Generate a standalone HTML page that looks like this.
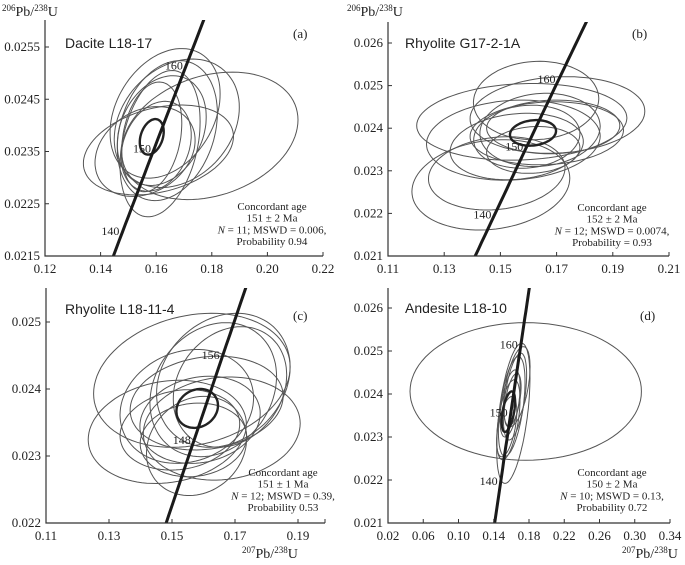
<!DOCTYPE html>
<html><head><meta charset="utf-8">
<style>
html,body{margin:0;padding:0;background:#fff;overflow:hidden;width:685px;height:565px;}
svg{display:block;font-family:"Liberation Serif","DejaVu Serif",serif;}
</style></head>
<body>
<svg id="chart" width="685" height="565" viewBox="0 0 685 565" xmlns="http://www.w3.org/2000/svg"></svg>
<script>
// ---- Panel (a) Dacite L18-17 ----
const aXTicks = [0.12, 0.14, 0.16, 0.18, 0.20, 0.22];
const aXLabels = ["0.12", "0.14", "0.16", "0.18", "0.20", "0.22"];
const aYTicks = [0.0215, 0.0225, 0.0235, 0.0245, 0.0255];
const aYLabels = ["0.0215", "0.0225", "0.0235", "0.0245", "0.0255"];
const aCx = [0.1793, 0.1608, 0.1632, 0.1674, 0.1614, 0.1584, 0.1620, 0.1600, 0.1640, 0.1560, 0.1584];
const aCy = [0.02380, 0.02353, 0.02423, 0.02404, 0.02365, 0.02378, 0.02390, 0.02360, 0.02390, 0.02350, 0.02378];
const aSx = [0.0317, 0.0270, 0.0198, 0.0225, 0.0144, 0.0108, 0.0160, 0.0126, 0.0180, 0.0180, 0.0043];
const aSy = [0.00122, 0.00086, 0.00124, 0.00123, 0.00140, 0.00105, 0.00105, 0.00086, 0.00134, 0.00086, 0.00034];
const aRho = [0.25, 0.3, 0.3, 0.25, 0.3, 0.25, 0.25, 0.25, 0.25, 0.25, 0.3];
const aAges = [140, 150, 160];

// ---- Panel (b) Rhyolite G17-2-1A ----
const bXTicks = [0.11, 0.13, 0.15, 0.17, 0.19, 0.21];
const bXLabels = ["0.11", "0.13", "0.15", "0.17", "0.19", "0.21"];
const bYTicks = [0.021, 0.022, 0.023, 0.024, 0.025, 0.026];
const bYLabels = ["0.021", "0.022", "0.023", "0.024", "0.025", "0.026"];
const bCx = [0.1466, 0.1576, 0.1627, 0.1703, 0.1487, 0.1665, 0.1594, 0.1641, 0.1558, 0.1688, 0.1617, 0.1546, 0.1616];
const bCy = [0.02267, 0.02415, 0.02465, 0.02431, 0.02294, 0.02388, 0.02380, 0.02396, 0.02357, 0.02403, 0.02349, 0.02372, 0.02389];
const bSx = [0.0281, 0.0374, 0.0223, 0.0311, 0.0243, 0.0273, 0.0189, 0.0214, 0.0237, 0.0237, 0.0166, 0.0309, 0.0082];
const bSy = [0.00106, 0.00090, 0.00092, 0.00090, 0.00086, 0.00074, 0.00074, 0.00086, 0.00078, 0.00063, 0.00055, 0.00094, 0.00030];
const bRho = [0.15, 0.1, 0.05, 0.1, 0.15, 0.1, 0.1, 0.1, 0.15, 0.05, 0.1, 0.1, 0.15];
const bAges = [140, 150, 160];

// ---- Panel (c) Rhyolite L18-11-4 ----
const cXTicks = [0.11, 0.13, 0.15, 0.17, 0.19];
const cXLabels = ["0.11", "0.13", "0.15", "0.17", "0.19"];
const cYTicks = [0.022, 0.023, 0.024, 0.025];
const cYLabels = ["0.022", "0.023", "0.024", "0.025"];
const cCx = [0.1485, 0.1658, 0.1563, 0.1663, 0.1578, 0.1547, 0.1631, 0.1589, 0.1610, 0.1525, 0.1684, 0.1568, 0.1580];
const cCy = [0.02336, 0.02341, 0.02413, 0.02413, 0.02315, 0.02374, 0.02399, 0.02354, 0.02379, 0.02339, 0.02403, 0.02324, 0.02371];
const cSx = [0.0251, 0.0249, 0.0312, 0.0212, 0.0159, 0.0212, 0.0201, 0.0191, 0.0243, 0.0190, 0.0180, 0.0169, 0.0066];
const cSy = [0.00077, 0.00077, 0.00100, 0.00100, 0.00074, 0.00085, 0.00100, 0.00065, 0.00070, 0.00060, 0.00090, 0.00055, 0.00029];
const cRho = [0.15, 0.1, 0.2, 0.2, 0.15, 0.15, 0.2, 0.15, 0.15, 0.15, 0.2, 0.1, 0.15];
const cAges = [148, 156];

// ---- Panel (d) Andesite L18-10 ----
const dXTicks = [0.02, 0.06, 0.10, 0.14, 0.18, 0.22, 0.26, 0.30, 0.34];
const dXLabels = ["0.02", "0.06", "0.10", "0.14", "0.18", "0.22", "0.26", "0.30", "0.34"];
const dYTicks = [0.021, 0.022, 0.023, 0.024, 0.025, 0.026];
const dYLabels = ["0.021", "0.022", "0.023", "0.024", "0.025", "0.026"];
const dCx = [0.1763, 0.1622, 0.1604, 0.1641, 0.1566, 0.1661, 0.1585, 0.1547, 0.1615, 0.1566];
const dCy = [0.02406, 0.02355, 0.02371, 0.02394, 0.02340, 0.02417, 0.02378, 0.02324, 0.02386, 0.02359];
const dSx = [0.1313, 0.0189, 0.0151, 0.0132, 0.0132, 0.0151, 0.0114, 0.0114, 0.0095, 0.0076];
const dSy = [0.00160, 0.00163, 0.00116, 0.00101, 0.00093, 0.00093, 0.00078, 0.00070, 0.00062, 0.00047];
const dRho = [0.0, 0.5, 0.5, 0.5, 0.5, 0.5, 0.5, 0.5, 0.5, 0.5];
const dAges = [140, 150, 160];

const NS = "http://www.w3.org/2000/svg";
const svg = document.getElementById("chart");
function mk(tag, attrs, parent) {
  const e = document.createElementNS(NS, tag);
  for (const k in attrs) e.setAttribute(k, attrs[k]);
  (parent || svg).appendChild(e);
  return e;
}
const L238 = 1.55125e-10, L235 = 9.8485e-10;
function conc(tMa) { return [Math.exp(L235 * tMa * 1e6) - 1, Math.exp(L238 * tMa * 1e6) - 1]; }

function panel(cfg) {
  const g = mk("g", {});
  
  
  const X = v => cfg.px0 + (v - cfg.dx0) / (cfg.dx1 - cfg.dx0) * (cfg.px1 - cfg.px0);
  const Y = v => cfg.py0 + (v - cfg.dy0) / (cfg.dy1 - cfg.dy0) * (cfg.py1 - cfg.py0);
  const clipId = "clip-" + cfg.id;
  const cp = mk("clipPath", { id: clipId }, g);
  mk("rect", { x: cfg.px0, y: cfg.top, width: cfg.axEnd - cfg.px0, height: cfg.py0 - cfg.top }, cp);
  const plot = mk("g", { "clip-path": "url(#" + clipId + ")" }, g);
  
  
  const n = cfg.cx.length;
  for (let i = 0; i < n; i++) {
    const bold = i === n - 1;
    const pts = [];
    const r = cfg.rho[i], q = Math.sqrt(1 - r * r);
    for (let k = 0; k <= 96; k++) {
      const t = k / 96 * 2 * Math.PI;
      const xv = cfg.cx[i] + cfg.sx[i] * Math.cos(t);
      const yv = cfg.cy[i] + cfg.sy[i] * (r * Math.cos(t) + q * Math.sin(t));
      pts.push(X(xv).toFixed(1) + "," + Y(yv).toFixed(1));
    }
    const e = mk("polygon", { points: pts.join(" "), fill: "none", stroke: bold ? "#222" : "#555", "stroke-width": bold ? 2.4 : 1 }, plot);
    
    
  }
  const cpts = [];
  for (let t = 100; t <= 200; t += 1) { const c = conc(t); cpts.push(X(c[0]).toFixed(1) + "," + Y(c[1]).toFixed(1)); }
  const cl = mk("polyline", { points: cpts.join(" "), fill: "none", stroke: "#1a1a1a", "stroke-width": 3 }, plot);
  
  
  cfg.ages.forEach(a => {
    const c = conc(a);
    const t = mk("text", { x: X(c[0]) - 3, y: Y(c[1]) + 3, "text-anchor": "end", "font-size": 12, fill: "#222" }, g);
    t.textContent = a;
    
    
  });
  const ax = mk("path", { d: `M${cfg.px0},${cfg.top} V${cfg.py0} H${cfg.axEnd}`, fill: "none", stroke: "#333", "stroke-width": 1.2 }, g);
  
  
  cfg.xt.forEach((v, i) => {
    const x = X(v);
    mk("line", { x1: x, x2: x, y1: cfg.py0, y2: cfg.py0 - 4, stroke: "#333" }, g);
    const t = mk("text", { x: x, y: cfg.py0 + 17, "text-anchor": "middle", "font-size": 13, fill: "#222" }, g);
    t.textContent = cfg.xl[i];
    
    
  });
  mk("line", { x1: cfg.axEnd, x2: cfg.axEnd, y1: cfg.py0, y2: cfg.py0 - 4, stroke: "#333" }, g);
  cfg.yt.forEach((v, i) => {
    const y = Y(v);
    mk("line", { x1: cfg.px0, x2: cfg.px0 + 4, y1: y, y2: y, stroke: "#333" }, g);
    const t = mk("text", { x: cfg.px0 - 5, y: y + 4, "text-anchor": "end", "font-size": 13, fill: "#222" }, g);
    t.textContent = cfg.yl[i];
    
    
  });
  const ti = mk("text", { x: cfg.titleX, y: cfg.titleY, "font-size": 14, fill: "#222", "font-family": "Liberation Sans, sans-serif" }, g);
  ti.textContent = cfg.title;
  
  
  const lt = mk("text", { x: cfg.letterX, y: cfg.letterY, "font-size": 13, fill: "#222" }, g);
  lt.textContent = cfg.letter;
  
  
  cfg.info.forEach((s, i) => {
    const t = mk("text", { x: cfg.infoX, y: cfg.infoY + i * 11.7, "text-anchor": "middle", "font-size": 11, fill: "#222" }, g);
    t.innerHTML = s;
    
    
  });
}

panel({ id: "a", px0: 45, px1: 323, dx0: 0.12, dx1: 0.22, py0: 256, py1: 47, dy0: 0.0215, dy1: 0.0255, top: 20, axEnd: 323,
  cx: aCx, cy: aCy, sx: aSx, sy: aSy, rho: aRho, ages: aAges, xt: aXTicks, xl: aXLabels, yt: aYTicks, yl: aYLabels,
  title: "Dacite L18-17", titleX: 65, titleY: 48, letter: "(a)", letterX: 293, letterY: 38,
  info: ["Concordant age", "151 ± 2 Ma", "<tspan font-style='italic'>N</tspan> = 11; MSWD = 0.006,", "Probability 0.94"], infoX: 272, infoY: 210 });
panel({ id: "b", px0: 388, px1: 669, dx0: 0.11, dx1: 0.21, py0: 256, py1: 43, dy0: 0.021, dy1: 0.026, top: 22, axEnd: 669,
  cx: bCx, cy: bCy, sx: bSx, sy: bSy, rho: bRho, ages: bAges, xt: bXTicks, xl: bXLabels, yt: bYTicks, yl: bYLabels,
  title: "Rhyolite G17-2-1A", titleX: 405, titleY: 48, letter: "(b)", letterX: 632, letterY: 38,
  info: ["Concordant age", "152 ± 2 Ma", "<tspan font-style='italic'>N</tspan> = 12; MSWD = 0.0074,", "Probability = 0.93"], infoX: 612, infoY: 211 });
panel({ id: "c", px0: 46, px1: 298, dx0: 0.11, dx1: 0.19, py0: 523, py1: 322, dy0: 0.022, dy1: 0.025, top: 288, axEnd: 325,
  cx: cCx, cy: cCy, sx: cSx, sy: cSy, rho: cRho, ages: cAges, xt: cXTicks, xl: cXLabels, yt: cYTicks, yl: cYLabels,
  title: "Rhyolite L18-11-4", titleX: 65, titleY: 314, letter: "(c)", letterX: 293, letterY: 320,
  info: ["Concordant age", "151 ± 1 Ma", "<tspan font-style='italic'>N</tspan> = 12; MSWD = 0.39,", "Probability 0.53"], infoX: 283, infoY: 476 });
panel({ id: "d", px0: 388, px1: 670, dx0: 0.02, dx1: 0.34, py0: 523, py1: 308, dy0: 0.021, dy1: 0.026, top: 288, axEnd: 670,
  cx: dCx, cy: dCy, sx: dSx, sy: dSy, rho: dRho, ages: dAges, xt: dXTicks, xl: dXLabels, yt: dYTicks, yl: dYLabels,
  title: "Andesite L18-10", titleX: 405, titleY: 313, letter: "(d)", letterX: 640, letterY: 320,
  info: ["Concordant age", "150 ± 2 Ma", "<tspan font-style='italic'>N</tspan> = 10; MSWD = 0.13,", "Probability 0.72"], infoX: 612, infoY: 476 });

function axTitle(x, y, a, b, name) {
  const t = mk("text", { x: x, y: y, "font-size": 14, fill: "#222" });
  t.innerHTML = `<tspan font-size="9" dy="-5">${a}</tspan><tspan dy="5">Pb/</tspan><tspan font-size="9" dy="-5">${b}</tspan><tspan dy="5">U</tspan>`;
  
  
}
axTitle(2, 16, "206", "238", "y-axis-title-a");
axTitle(347, 16, "206", "238", "y-axis-title-b");
axTitle(242, 558, "207", "238", "x-axis-title-c");
axTitle(622, 558, "207", "238", "x-axis-title-d");
</script>
</body></html>
